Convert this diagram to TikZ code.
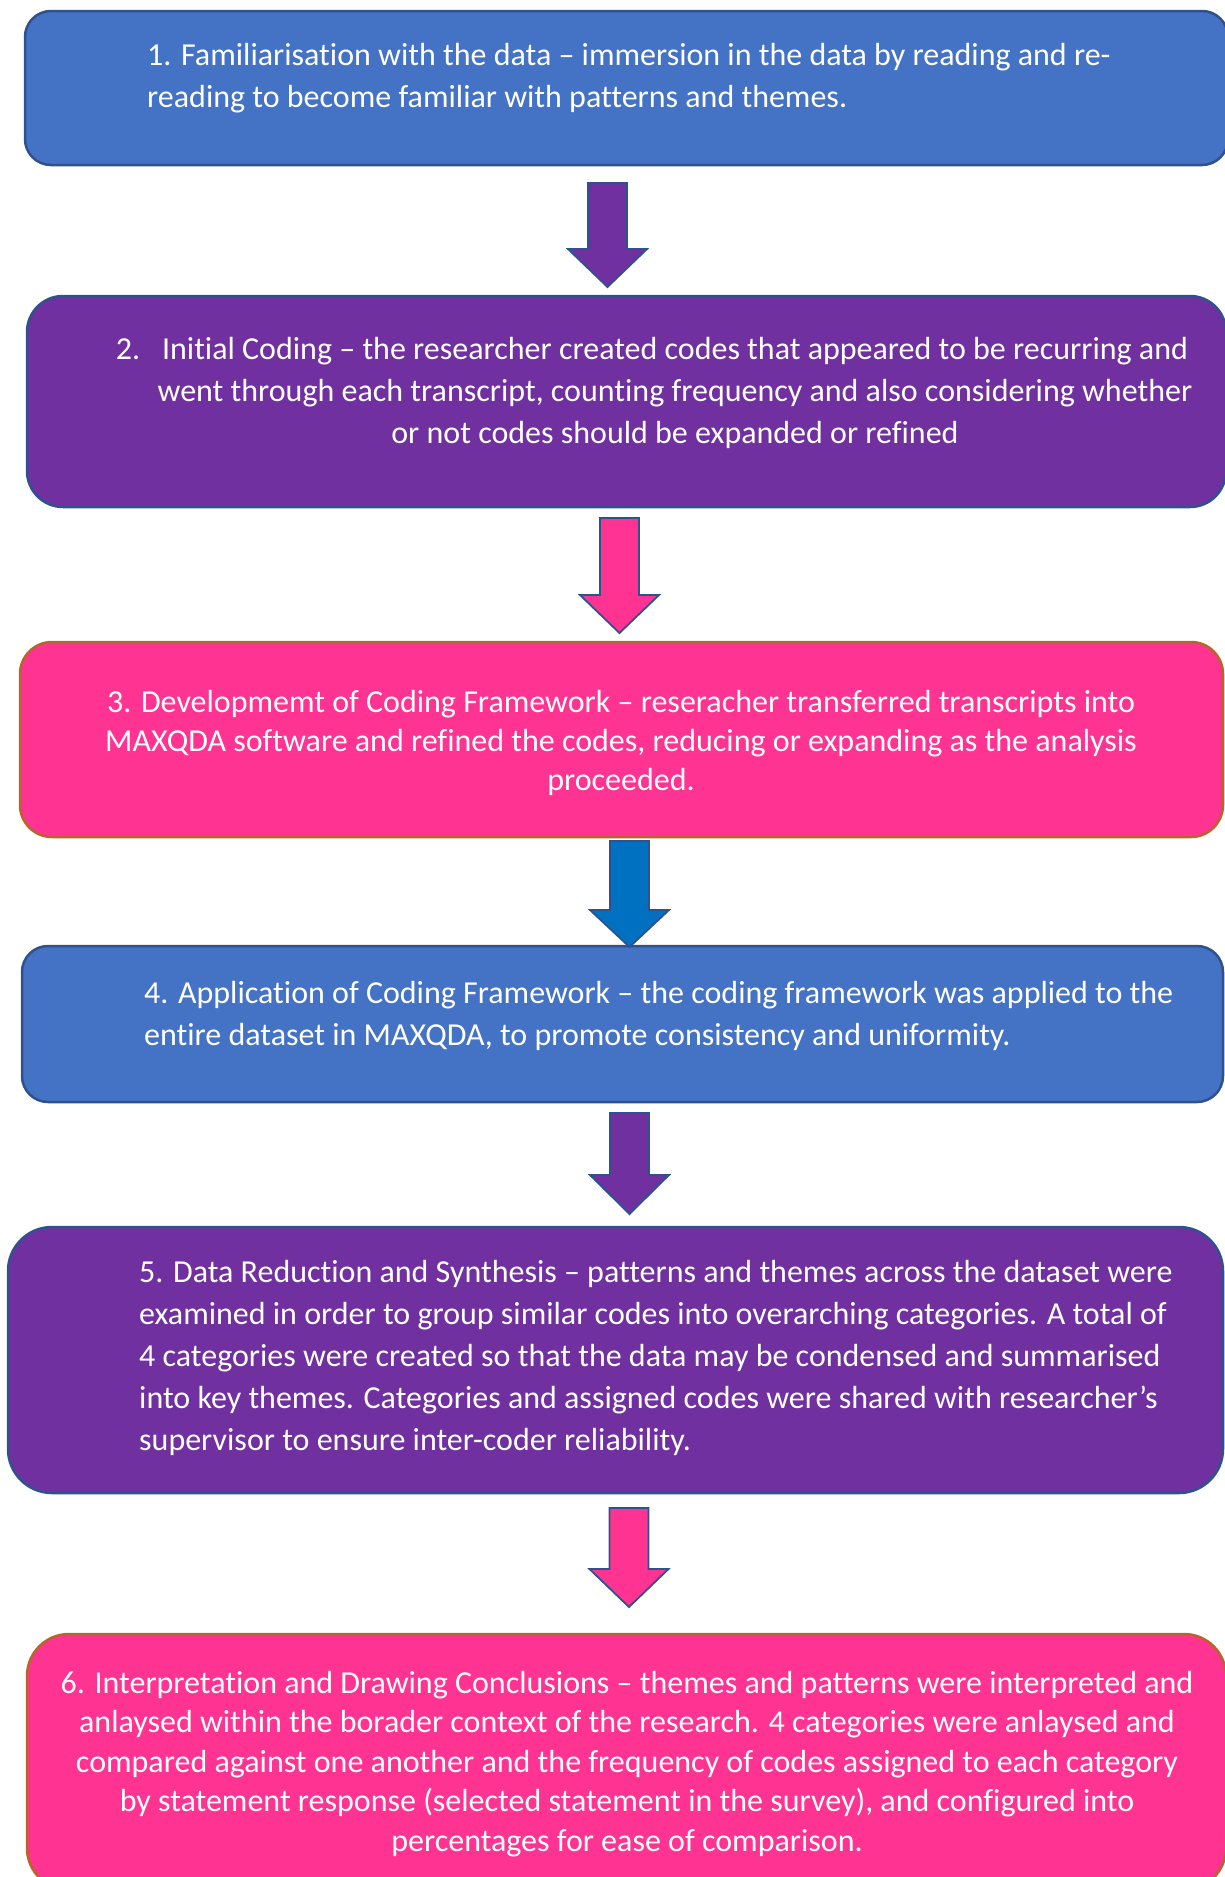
\documentclass[tikz,border=0pt]{standalone}
\usepackage{fontspec}
\setmainfont{Carlito}[Ligatures=NoCommon]
\definecolor{boxblue}{HTML}{4472C4}
\definecolor{boxpurple}{HTML}{7030A0}
\definecolor{boxpink}{HTML}{FF3391}
\definecolor{arrowblue}{HTML}{0070C0}
\definecolor{edgeblue}{HTML}{2F528F}
\definecolor{edgebrown}{HTML}{B8652A}
\newcommand\blockarrow[5]{% fill, centre x, shaft top, head start, tip
  \draw[arrowline, fill=#1]
    ({#2-19.5},#3) -- ({#2+19.5},#3) -- ({#2+19.5},#4) -- ({#2+39.5},#4)
    -- (#2,#5) -- ({#2-39.5},#4) -- ({#2-19.5},#4) -- cycle;}
\begin{document}
\begin{tikzpicture}[x=1pt,y=-1pt,
  stage/.style={line width=2.5pt, inner sep=0pt, outer sep=0pt,
    anchor=north west},
  bluestage/.style={stage, fill=boxblue, draw=edgeblue},
  purplestage/.style={stage, fill=boxpurple, draw=edgeblue},
  pinkstage/.style={stage, fill=boxpink, draw=edgebrown},
  arrowline/.style={draw=edgeblue, line width=1.8pt, line join=miter},
  steptext/.style={text=white, inner sep=0pt, font=\fontsize{32}{42}\selectfont},
]
\useasboundingbox (0,0) rectangle (1225,1877);
\clip (0,0) rectangle (1225,1877);

% stage boxes
\node[bluestage, rounded corners=26pt, minimum width=1203pt, minimum height=154pt]
  (b1) at (25,11) {};
\node[purplestage, rounded corners=36pt, minimum width=1199pt, minimum height=211pt]
  (b2) at (27,296) {};
\node[pinkstage, rounded corners=32pt, minimum width=1203pt, minimum height=195pt]
  (b3) at (20,642) {};
\node[bluestage, rounded corners=26pt, minimum width=1201pt, minimum height=156pt]
  (b4) at (22,946) {};
\node[purplestage, rounded corners=44pt, minimum width=1215pt, minimum height=266pt]
  (b5) at (8,1227) {};
\node[pinkstage, rounded corners=42pt, minimum width=1199pt, minimum height=256pt]
  (b6) at (27,1634) {};

% block arrows between the stages
\blockarrow{boxpurple}{607.5}{183}{249}{287}
\blockarrow{boxpink}{619.5}{518}{595}{633}
\blockarrow{arrowblue}{629.5}{841}{910}{947}
\blockarrow{boxpurple}{629.5}{1113}{1175}{1214}
\blockarrow{boxpink}{629}{1508}{1569}{1607}

% stage descriptions
\node[steptext, anchor=west, align=left] (t1) at (147,78)
  {1. Familiarisation with the data – immersion in the data by reading and re-\\
   reading to become familiar with patterns and themes.};
\node[steptext, align=center] (t2) at (675,393)
  {\llap{2.\hspace{22pt}}Initial Coding – the researcher created codes that appeared to be recurring and\\
   went through each transcript, counting frequency and also considering whether\\
   or not codes should be expanded or refined};
\node[steptext, align=center, font=\fontsize{32}{39}\selectfont] (t3) at (621,743)
  {3. Developmemt of Coding Framework – reseracher transferred transcripts into\\
   MAXQDA software and refined the codes, reducing or expanding as the analysis\\
   proceeded.};
\node[steptext, anchor=west, align=left] (t4) at (144,1016)
  {4. Application of Coding Framework – the coding framework was applied to the\\
   entire dataset in MAXQDA, to promote consistency and uniformity.};
\node[steptext, anchor=west, align=left] (t5) at (139,1358)
  {5. Data Reduction and Synthesis – patterns and themes across the dataset were\\
   examined in order to group similar codes into overarching categories. A total of\\
   4 categories were created so that the data may be condensed and summarised\\
   into key themes. Categories and assigned codes were shared with researcher’s\\
   supervisor to ensure inter-coder reliability.};
\node[steptext, align=center, font=\fontsize{32}{39.5}\selectfont] (t6) at (627,1764)
  {6. Interpretation and Drawing Conclusions – themes and patterns were interpreted and\\
   anlaysed within the borader context of the research. 4 categories were anlaysed and\\
   compared against one another and the frequency of codes assigned to each category\\
   by statement response (selected statement in the survey), and configured into\\
   percentages for ease of comparison.};
\end{tikzpicture}
\end{document}
